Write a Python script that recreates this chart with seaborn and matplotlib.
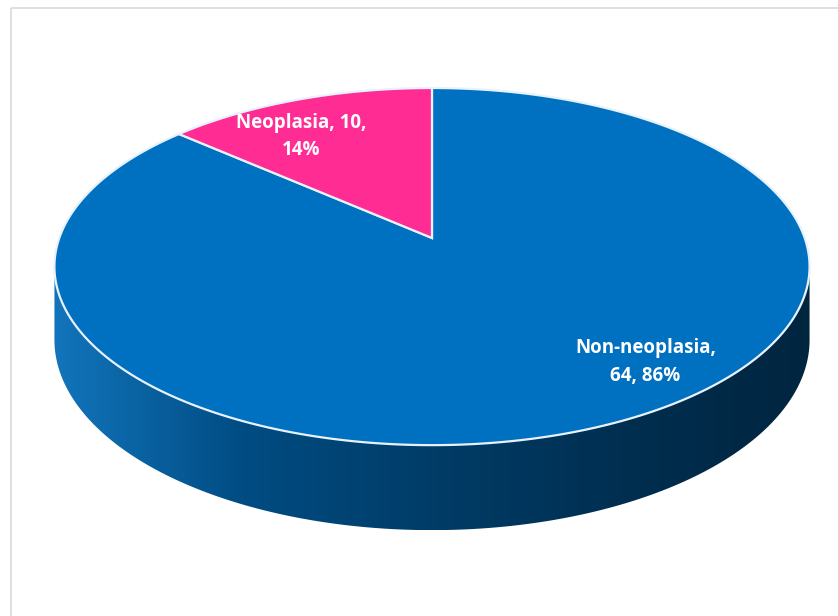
import numpy as np
import matplotlib
matplotlib.use("Agg")
import matplotlib.pyplot as plt
from matplotlib.colors import LinearSegmentedColormap, to_rgb
from matplotlib.patches import Polygon, Rectangle
import seaborn as sns

# Data
categories = ["Non-neoplasia", "Neoplasia"]
counts = [64, 10]
slice_colors = ["#0070C0", "#FF2C94"]
label_formats = ["{c},\n{n}, {p}", "{c}, {n},\n{p}"]

sns.set_theme(style="white")
plt.rcParams["font.family"] = ["Open Sans", "DejaVu Sans"]

# Tilted disk seen in perspective (pixel space of the figure)
cx, cy = 432, 238
rx, ry = 372.7, 174
k = 0.16
depth = 71.4


def project(phi_deg, z=0.0):
    phi = np.radians(phi_deg)
    x, y = np.cos(phi), np.sin(phi)
    s = 1 + k * y
    return cx + rx * x / s, cy - ry * y / s + depth * z / s


fig = plt.figure(figsize=(8.38, 6.16), dpi=100)
ax = fig.add_axes([0, 0, 1, 1])

total = sum(counts)
fracs = [c / total for c in counts]

# Slice angles: start at 12 o'clock, clockwise
ranges = []
start = 90.0
for f in fracs:
    ranges.append((start - 360 * f, start))
    start -= 360 * f

# Visible side band (silhouette under perspective)
vis_lo = 180 + np.degrees(np.arcsin(k))
vis_hi = 360 - np.degrees(np.arcsin(k))

for (t2, t1), col in zip(ranges, slice_colors):
    for shift in (-360, 0, 360):
        lo = max(t2 + shift, vis_lo)
        hi = min(t1 + shift, vis_hi)
        if lo >= hi:
            continue
        ph = np.linspace(lo, hi, 200)
        tx, ty = project(ph, 0)
        bx, by = project(ph, 1)
        pts = np.column_stack([np.r_[tx, bx[::-1]], np.r_[ty, by[::-1]]])
        side = Polygon(pts, closed=True, facecolor="none", edgecolor="none")
        ax.add_patch(side)
        base = np.array(to_rgb(col))
        cmap = LinearSegmentedColormap.from_list(
            "side", [base * 0.88 + 0.07, base * 0.68, base * 0.54, base * 0.42, base * 0.33])
        grad = np.linspace(0, 1, 256).reshape(1, -1)
        im = ax.imshow(grad, cmap=cmap, aspect="auto",
                       extent=(pts[:, 0].min(), pts[:, 0].max(), pts[:, 1].max(), pts[:, 1].min()),
                       zorder=1)
        im.set_clip_path(side)

# Top faces
for (t2, t1), col in zip(ranges, slice_colors):
    ph = np.linspace(t1, t2, 400)
    ax_, ay_ = project(ph, 0)
    pts = np.column_stack([np.r_[cx, ax_], np.r_[cy, ay_]])
    ax.add_patch(Polygon(pts, closed=True, facecolor=col, edgecolor="#e8f2fc",
                         linewidth=1.6, joinstyle="miter", zorder=3))

# Data labels
label_radius = [0.82, 0.75]
label_shift = [14.5, 6.7]
for (t2, t1), cat, n, f, fmt, r, sh in zip(ranges, categories, counts, fracs,
                                           label_formats, label_radius, label_shift):
    mid = np.radians((t1 + t2) / 2 + sh)
    x, y = r * np.cos(mid), r * np.sin(mid)
    s = 1 + k * y
    lx, ly = cx + rx * x / s, cy - ry * y / s
    ax.text(lx, ly, fmt.format(c=cat, n=n, p=f"{f:.0%}"), color="white",
            fontsize=13.5, fontweight="bold", ha="center", va="center",
            linespacing=1.5, zorder=5)

# Chart area border (right edge lies outside the picture)
ax.add_patch(Rectangle((10.5, 7.5), 860, 640, fill=False, edgecolor="#d9d9d9",
                       linewidth=1.2, zorder=0))

ax.set_xlim(0, 838)
ax.set_ylim(616, 0)
ax.axis("off")

fig.savefig("out.png", dpi=100)
